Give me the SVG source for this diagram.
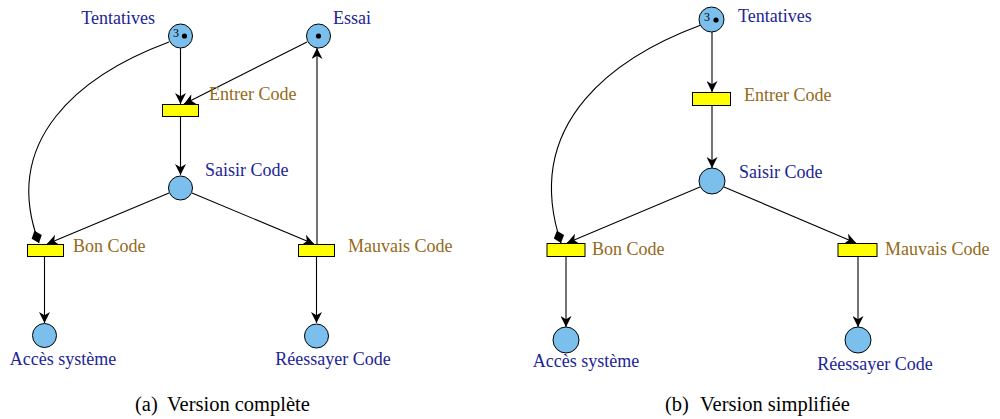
<svg xmlns="http://www.w3.org/2000/svg" width="1000" height="419" viewBox="0 0 1000 419">
<style>
.pl{fill:#7bbfec;stroke:#000;stroke-width:1}
.tr{fill:#ffff00;stroke:#000;stroke-width:1}
.pt{font-size:18px;fill:#1c2596}
.tt{font-size:18px;fill:#94691a}
.cap{font-size:20.5px;fill:#000}
.tok{font-size:12px;fill:#000}
.ar{fill:none;stroke:#000;stroke-width:1.1}
</style>
<defs>
<marker id="ah" viewBox="0 0 10 10" refX="10" refY="5" markerWidth="11" markerHeight="11" markerUnits="userSpaceOnUse" orient="auto">
<path d="M0,0 L10,5 L0,10 L3,5 Z" fill="#000"/>
</marker>
<marker id="dm" viewBox="0 0 12 10" refX="12" refY="5" markerWidth="13" markerHeight="11" markerUnits="userSpaceOnUse" orient="auto">
<path d="M0,5 L6,0 L12,5 L6,10 Z" fill="#000"/>
</marker>
</defs>

<g id="connectors">
<path class="ar" d="M180.5,48 L180.5,104" marker-end="url(#ah)"/>
<path class="ar" d="M307,42 L184,104" marker-end="url(#ah)"/>
<path class="ar" d="M180.5,117 L180.5,175" marker-end="url(#ah)"/>
<path class="ar" d="M169,193 L47,244" marker-end="url(#ah)"/>
<path class="ar" d="M192,193 L314,244" marker-end="url(#ah)"/>
<path class="ar" d="M317,244 L317,48" marker-end="url(#ah)"/>
<path class="ar" d="M44.5,257 L44.5,323" marker-end="url(#ah)"/>
<path class="ar" d="M316.5,257 L316.5,323" marker-end="url(#ah)"/>
<path class="ar" d="M169,42 C80,75 0,140 39,243" marker-end="url(#dm)"/>
<path class="ar" d="M712,32 L712,92" marker-end="url(#ah)"/>
<path class="ar" d="M712,105 L712,168" marker-end="url(#ah)"/>
<path class="ar" d="M700,187 L567,243" marker-end="url(#ah)"/>
<path class="ar" d="M724,187 L856,243" marker-end="url(#ah)"/>
<path class="ar" d="M566,256 L566,327" marker-end="url(#ah)"/>
<path class="ar" d="M858,256 L858,327" marker-end="url(#ah)"/>
<path class="ar" d="M701,25 C620,55 520,120 561,243" marker-end="url(#dm)"/>
</g>

<g font-family="Liberation Serif, serif">
<g id="a-tentatives">
<circle class="pl" cx="180.5" cy="36" r="12"/>
<text class="tok" font-family="Liberation Serif, serif" x="173" y="37">3</text>
<circle cx="184.5" cy="36" r="2.6" fill="#000"/>
<text class="pt" font-family="Liberation Serif, serif" x="155" y="24" text-anchor="end">Tentatives</text>
</g>
<g id="a-essai">
<circle class="pl" cx="318.5" cy="36" r="12"/>
<circle cx="318.5" cy="36" r="2.6" fill="#000"/>
<text class="pt" font-family="Liberation Serif, serif" x="333" y="24">Essai</text>
</g>
<g id="a-entrer">
<rect class="tr" x="162.5" y="104.5" width="36" height="12"/>
<text class="tt" font-family="Liberation Serif, serif" x="209" y="100">Entrer Code</text>
</g>
<g id="a-saisir">
<circle class="pl" cx="180.5" cy="188" r="12"/>
<text class="pt" font-family="Liberation Serif, serif" x="205" y="176">Saisir Code</text>
</g>
<g id="a-bon">
<rect class="tr" x="27.5" y="244.5" width="36" height="12"/>
<text class="tt" font-family="Liberation Serif, serif" x="73" y="252">Bon Code</text>
</g>
<g id="a-mauvais">
<rect class="tr" x="298.5" y="244.5" width="36" height="12"/>
<text class="tt" font-family="Liberation Serif, serif" x="348" y="252">Mauvais Code</text>
</g>
<g id="a-acces">
<circle class="pl" cx="44.5" cy="335.5" r="12"/>
<text class="pt" font-family="Liberation Serif, serif" x="63" y="365" text-anchor="middle">Accès système</text>
</g>
<g id="a-reessayer">
<circle class="pl" cx="316.5" cy="336" r="12"/>
<text class="pt" font-family="Liberation Serif, serif" x="333" y="365" text-anchor="middle">Réessayer Code</text>
</g>
<text class="cap" font-family="Liberation Serif, serif" x="135" y="411">(a)<tspan x="167">Version complète</tspan></text>

<g id="b-tentatives">
<circle class="pl" cx="711.5" cy="19.5" r="12.5"/>
<text class="tok" font-family="Liberation Serif, serif" x="704" y="21">3</text>
<circle cx="716" cy="20" r="2.6" fill="#000"/>
<text class="pt" font-family="Liberation Serif, serif" x="738" y="22">Tentatives</text>
</g>
<g id="b-entrer">
<rect class="tr" x="692.5" y="92.5" width="38" height="13"/>
<text class="tt" font-family="Liberation Serif, serif" x="744" y="101">Entrer Code</text>
</g>
<g id="b-saisir">
<circle class="pl" cx="712" cy="181" r="13"/>
<text class="pt" font-family="Liberation Serif, serif" x="739" y="178">Saisir Code</text>
</g>
<g id="b-bon">
<rect class="tr" x="547" y="243.5" width="38" height="13"/>
<text class="tt" font-family="Liberation Serif, serif" x="592" y="255">Bon Code</text>
</g>
<g id="b-mauvais">
<rect class="tr" x="838" y="243.5" width="39" height="13"/>
<text class="tt" font-family="Liberation Serif, serif" x="885" y="255">Mauvais Code</text>
</g>
<g id="b-acces">
<circle class="pl" cx="566" cy="340" r="13"/>
<text class="pt" font-family="Liberation Serif, serif" x="586" y="367" text-anchor="middle">Accès système</text>
</g>
<g id="b-reessayer">
<circle class="pl" cx="858" cy="340" r="13"/>
<text class="pt" font-family="Liberation Serif, serif" x="875" y="370" text-anchor="middle">Réessayer Code</text>
</g>
<text class="cap" font-family="Liberation Serif, serif" x="665" y="411">(b)<tspan x="700">Version simplifiée</tspan></text>
</g>
</svg>
